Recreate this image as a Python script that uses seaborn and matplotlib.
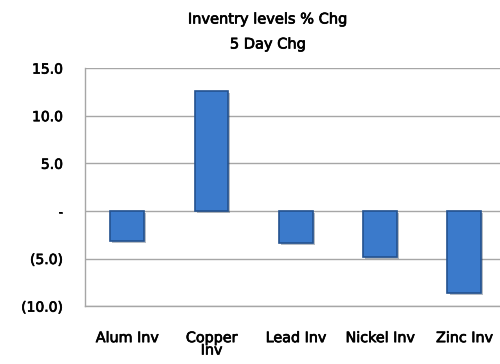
import matplotlib
matplotlib.use("Agg")
import matplotlib.pyplot as plt
import seaborn as sns
import pandas as pd
from matplotlib.ticker import FuncFormatter
import matplotlib.patheffects as pe

categories = ["Alum Inv", "Copper\nInv", "Lead Inv", "Nickel Inv", "Zinc Inv"]
changes = [-3.2, 12.6, -3.4, -4.8, -8.6]
y_ticks = [-10, -5, 0, 5, 10, 15]

df = pd.DataFrame({"metal": categories, "chg": changes})

sns.set_theme(style="white")
plt.rcParams["font.family"] = ["DejaVu Sans"]

fig = plt.figure(figsize=(5.0, 3.64), dpi=100)
ax = fig.add_axes([0.17, 0.159, 0.843, 0.654])

sns.barplot(data=df, x="metal", y="chg", color="#3b7acb", saturation=1,
            width=0.4, edgecolor="#24528f", linewidth=1.2, ax=ax, zorder=3)
for bar in ax.patches:
    bar.set_path_effects([pe.SimplePatchShadow(offset=(1.5, -1.5), alpha=0.3),
                          pe.Normal()])

ax.set_ylim(-10, 15)
ax.set_xlim(-0.5, 4.5)
ax.set_yticks(y_ticks)


def fmt(v, _):
    if abs(v) < 1e-9:
        return "-"
    if v < 0:
        return f"({abs(v):.1f})"
    return f"{v:.1f}"


ax.yaxis.set_major_formatter(FuncFormatter(fmt))
ax.grid(axis="y", color="#a6a6a6", linewidth=1.0, zorder=0)
ax.set_axisbelow(True)
for side in ["top", "right"]:
    ax.spines[side].set_visible(False)
for side in ["left", "bottom"]:
    ax.spines[side].set_color("#a6a6a6")
    ax.spines[side].set_linewidth(1.0)

# slightly heavier strokes for all text
heavy = [pe.withStroke(linewidth=0.5, foreground="black")]

ax.tick_params(axis="y", length=0, pad=16, labelcolor="black")
ax.tick_params(axis="x", length=0, pad=18, labelcolor="black")
for lbl in ax.get_yticklabels():
    lbl.set_fontsize(10)
    lbl.set_path_effects(heavy)
for lbl in ax.get_xticklabels():
    lbl.set_fontsize(10.3)
    lbl.set_path_effects(heavy)
    lbl.set_va("top")
    lbl.set_linespacing(0.85)
ax.set_xlabel("")
ax.set_ylabel("")

fig.text(268 / 500, 1 - 19 / 364, "Inventry levels % Chg", ha="center", va="center",
         fontsize=10.5, color="black", path_effects=heavy)
fig.text(268 / 500, 1 - 44 / 364, "5 Day Chg", ha="center", va="center",
         fontsize=10.5, color="black", path_effects=heavy)

fig.savefig("out.png", dpi=100)
